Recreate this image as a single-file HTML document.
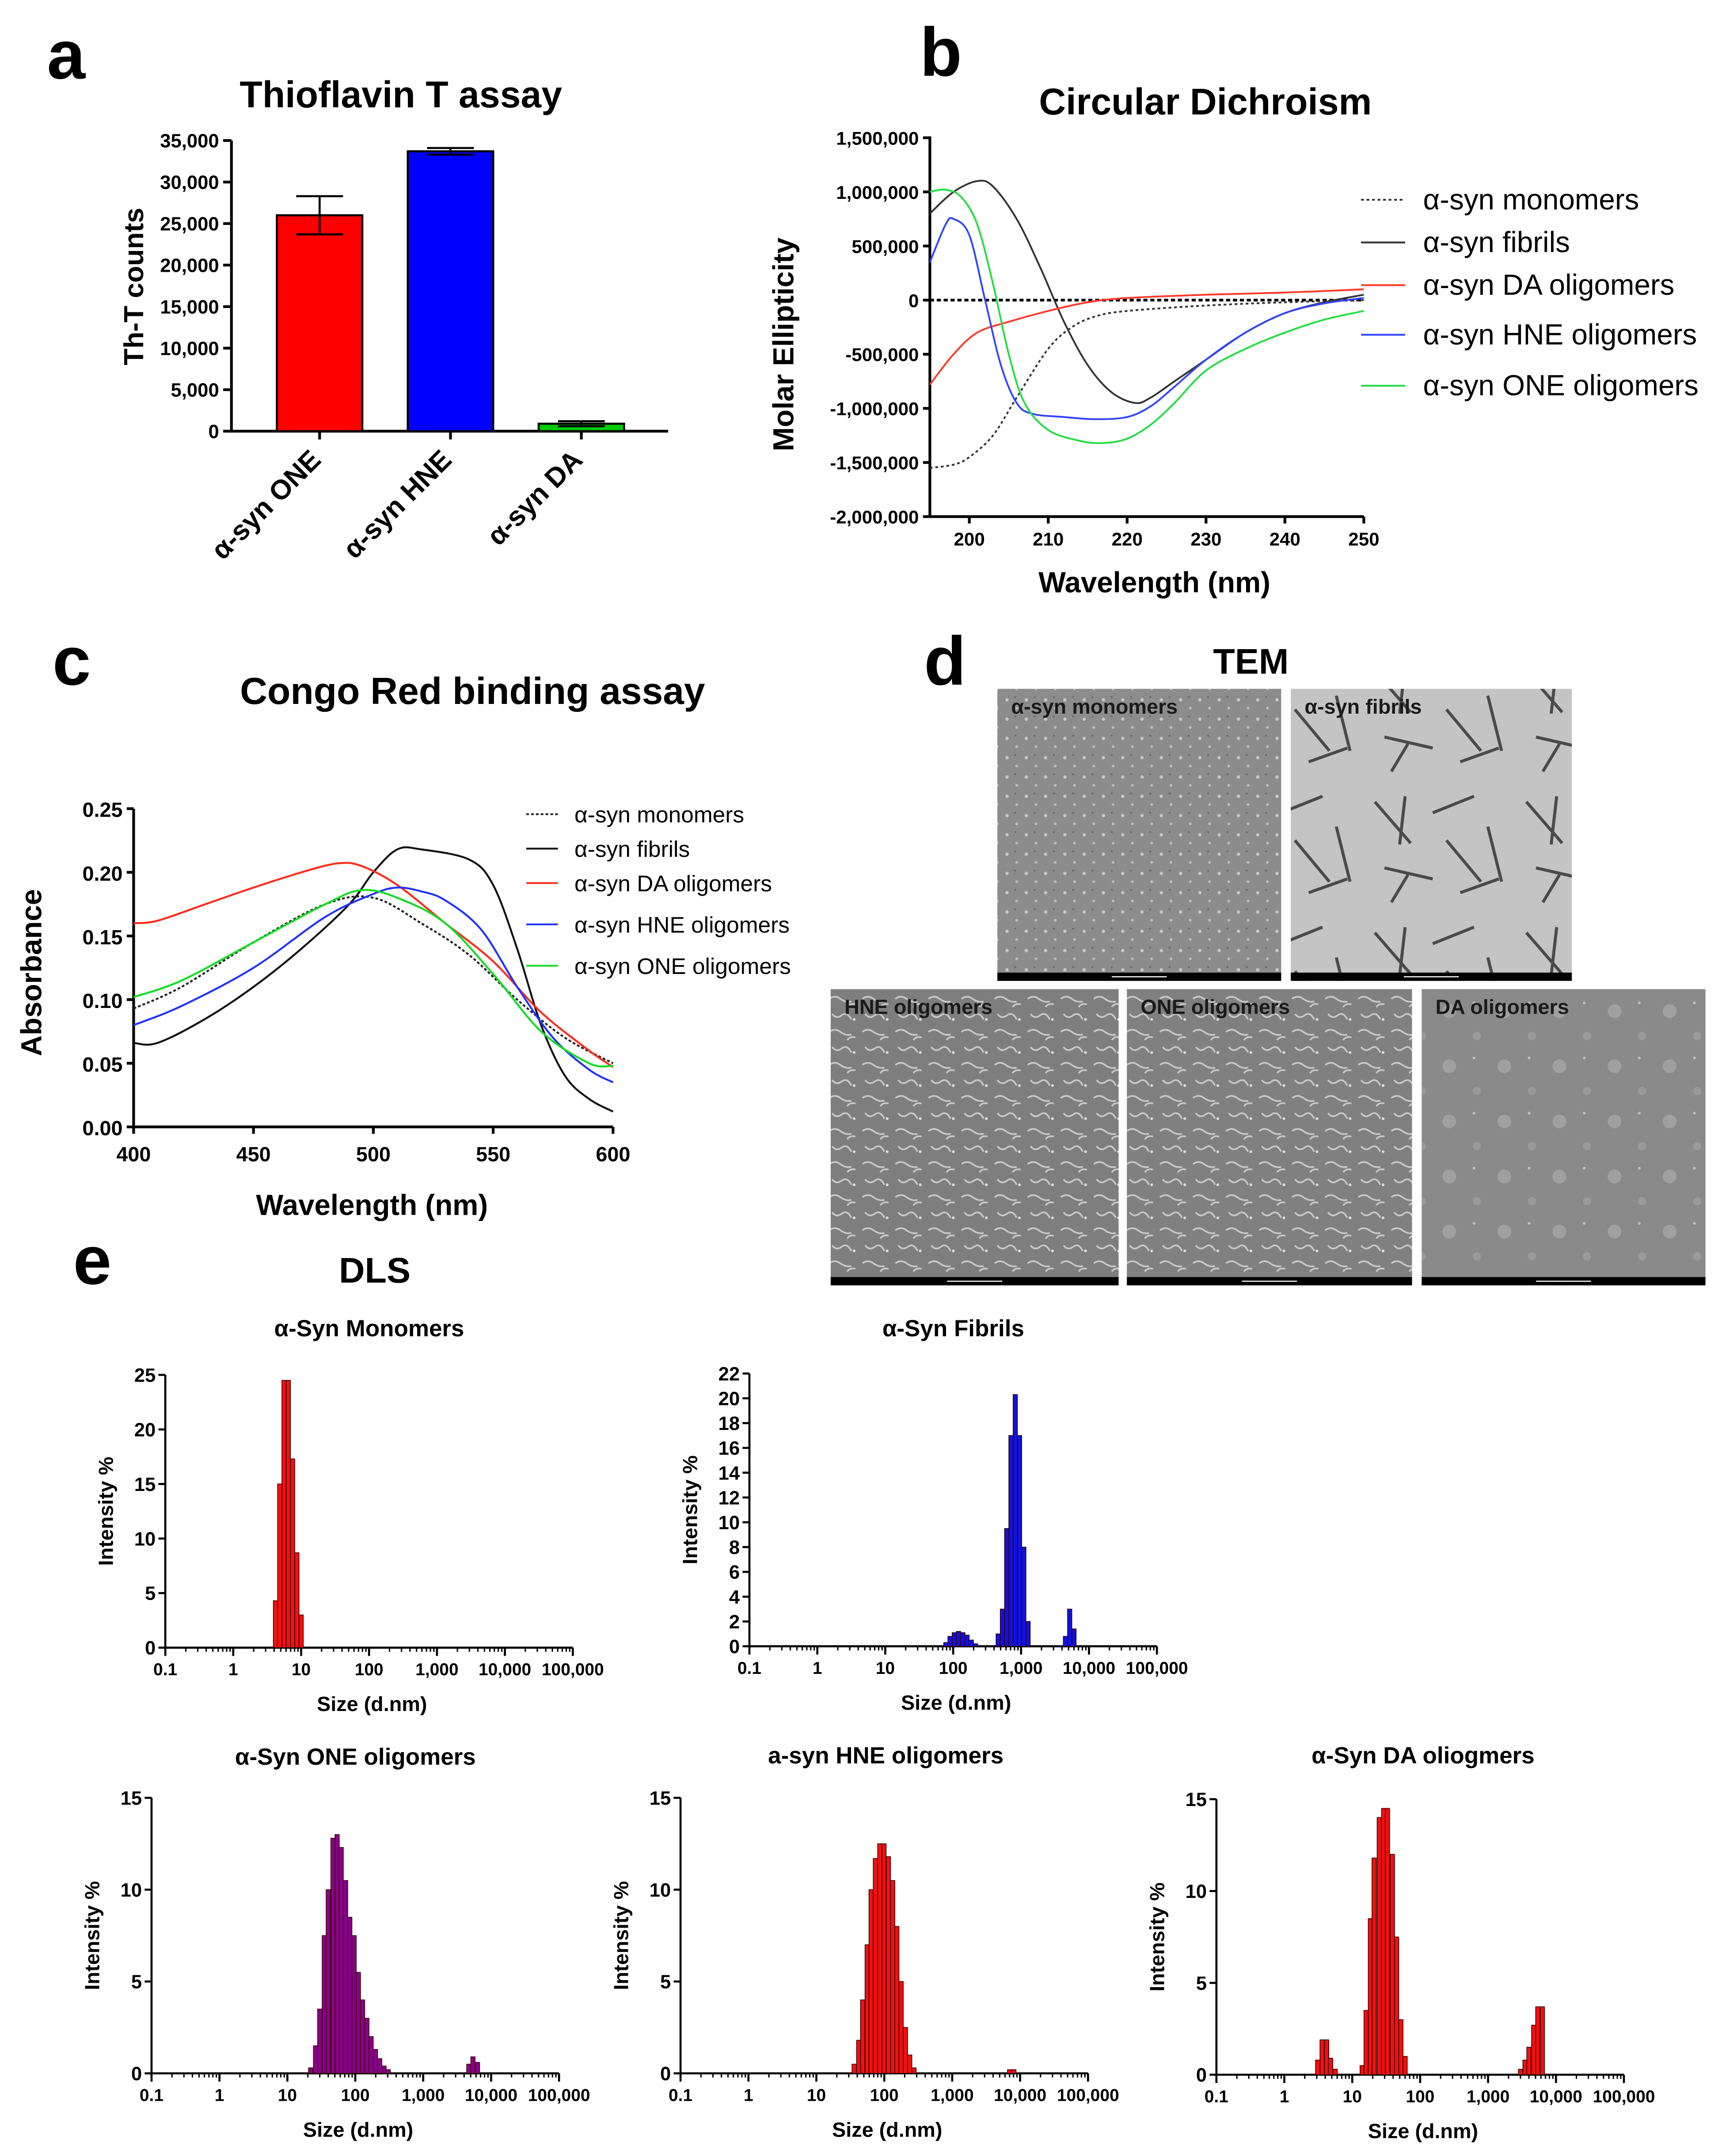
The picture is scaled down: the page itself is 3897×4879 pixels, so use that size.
<!DOCTYPE html>
<html><head><meta charset="utf-8"><style>
html,body{margin:0;padding:0;background:#fff}
svg{display:block}
text{font-family:"Liberation Sans",sans-serif}
</style></head><body>
<svg id="fig" width="3897" height="4879" viewBox="0 0 1250 1565" xmlns="http://www.w3.org/2000/svg">
<defs>
<pattern id="dots" width="14" height="14" patternUnits="userSpaceOnUse"><circle cx="3" cy="4" r="1.2" fill="#c8c8c8"/><circle cx="10" cy="10" r="1" fill="#bdbdbd"/><circle cx="9" cy="2" r="0.7" fill="#6a6a6a"/></pattern>
<pattern id="worms" width="24" height="24" patternUnits="userSpaceOnUse"><path d="M2 5 q4 -3 8 0 t8 2 M4 16 q3 4 7 1 t7 3 M15 11 q2 -3 6 -2" stroke="#c9c9c9" stroke-width="1.2" fill="none"/><circle cx="20" cy="20" r="1" fill="#ddd"/></pattern>
<pattern id="fib" width="110" height="95" patternUnits="userSpaceOnUse"><path d="M8 12 l26 30 M30 8 l-4 35 M50 20 l30 -12 M60 40 l25 30 M15 60 l35 8 M70 78 l28 -10 M90 30 l10 40 M20 85 l12 -20" stroke="#4a4a4a" stroke-width="2.2" fill="none"/></pattern>
<pattern id="blobs" width="40" height="40" patternUnits="userSpaceOnUse"><circle cx="12" cy="14" r="5" fill="#a0a0a0"/><circle cx="32" cy="32" r="3" fill="#9a9a9a"/><circle cx="30" cy="8" r="1" fill="#c0c0c0"/></pattern>
</defs>
</svg>
<script>
// ---------- data ----------
const thtCategories = ['α-syn ONE','α-syn HNE','α-syn DA'];
const thtValues = [26000, 33700, 900];
const thtErrors = [2300, 400, 300];
const thtColors = ['#ff0000','#0000ff','#00cc00'];

const cdWl_mono = [195,198,200,203,206,210,213,216,220,230,240,250];
const cdVal_mono = [-1.55,-1.52,-1.45,-1.25,-0.9,-0.45,-0.25,-0.15,-0.1,-0.05,-0.02,0.0];
const cdWl_fib = [195,198,201,203,206,209,212,215,218,221,223,226,230,235,240,245,250];
const cdVal_fib = [0.8,1.0,1.1,1.05,0.75,0.3,-0.2,-0.6,-0.85,-0.95,-0.9,-0.75,-0.55,-0.3,-0.12,-0.02,0.05];
const cdWl_da = [195,198,201,205,210,215,220,230,240,250];
const cdVal_da = [-0.78,-0.5,-0.3,-0.2,-0.1,-0.02,0.02,0.05,0.07,0.1];
const cdWl_hne = [195,197,198,200,202,204,206,208,212,216,220,223,226,230,235,240,245,250];
const cdVal_hne = [0.35,0.7,0.75,0.6,0.0,-0.6,-0.95,-1.05,-1.08,-1.1,-1.08,-0.98,-0.8,-0.55,-0.3,-0.12,-0.03,0.02];
const cdWl_one = [195,197,199,201,203,205,207,210,214,217,220,223,226,230,235,240,245,250];
const cdVal_one = [1.0,1.02,0.95,0.7,0.15,-0.5,-0.95,-1.2,-1.3,-1.32,-1.28,-1.15,-0.95,-0.65,-0.45,-0.3,-0.18,-0.1];
const cdYTicks = ['1,500,000','1,000,000','500,000','0','-500,000','-1,000,000','-1,500,000','-2,000,000'];
const cdXTicks = [200,210,220,230,240,250];

const crWl_mono = [400,420,450,480,500,520,540,560,580,600];
const crVal_mono = [0.093,0.11,0.145,0.175,0.18,0.16,0.135,0.10,0.07,0.05];
const crWl_fib = [400,410,430,450,470,490,500,510,520,540,550,560,570,580,590,600];
const crVal_fib = [0.066,0.066,0.085,0.11,0.14,0.175,0.2,0.218,0.218,0.21,0.19,0.14,0.08,0.04,0.022,0.012];
const crWl_da = [400,410,430,450,470,485,495,510,530,550,570,590,600];
const crVal_da = [0.16,0.162,0.175,0.188,0.2,0.207,0.205,0.19,0.16,0.13,0.09,0.06,0.047];
const crWl_hne = [400,420,450,480,500,510,520,530,545,560,575,590,600];
const crVal_hne = [0.08,0.095,0.125,0.165,0.183,0.188,0.185,0.178,0.155,0.11,0.07,0.045,0.035];
const crWl_one = [400,420,450,480,495,510,530,550,570,590,600];
const crVal_one = [0.102,0.115,0.145,0.175,0.186,0.18,0.16,0.12,0.075,0.05,0.048];
const crYTicks = ['0.00','0.05','0.10','0.15','0.20','0.25'];
const crXTicks = [400,450,500,550,600];

const dlsMonoSize = [4.19,4.84,5.6,6.47,7.48,8.65,10];
const dlsMonoVal = [4.3,15,24.5,24.5,17.3,8.7,3];
const dlsFibSize = [78,90,104,120,139,160,185,214,460,531,614,710,821,949,1097,1268,4500,5200,6010];
const dlsFibVal = [0.3,0.8,1.1,1.2,1.1,0.9,0.5,0.2,1.0,3.0,9.5,17,20.3,17,8,2,0.8,3,1.4];
const dlsOneSize = [22,26,30,35,40,47,54,62,72,83,96,111,128,148,171,198,229,265,306,4700,5400,6300];
const dlsOneVal = [0.3,1.5,3.5,7.5,10,12.8,13,12.3,10.5,8.5,7.5,5.5,4,3,2,1.3,0.8,0.4,0.2,0.5,0.9,0.6];
const dlsHneSize = [36,42,48,56,64,74,86,99,115,133,153,177,205,237,274,7000,8100];
const dlsHneVal = [0.5,1.8,4,7,10,11.7,12.5,12.5,11.8,10.5,8,5,2.5,1,0.3,0.2,0.2];
const dlsDaSize = [3.1,3.6,4.2,4.8,5.6,14,16,18.5,21,25,29,33,39,45,52,60,3000,3500,4000,4700,5400,6300];
const dlsDaVal = [0.8,1.9,1.9,0.9,0.3,0.5,3.5,8.5,11.8,14,14.5,14.5,12,7.5,3,1,0.3,0.8,1.5,2.7,3.7,3.7];
const dlsXTicks = ['0.1','1','10','100','1,000','10,000','100,000'];

// ---------- helpers ----------
const svg = document.getElementById('fig');
const NS = 'http://www.w3.org/2000/svg';
function mk(tag, attrs, name, parent){
  const e = document.createElementNS(NS, tag);
  for (const k in attrs) e.setAttribute(k, attrs[k]);
  
  
  (parent||svg).appendChild(e);
  return e;
}
function txt(x,y,s,size,name,opt){
  opt=opt||{};
  const t = mk('text',{x:x,y:y,'font-size':size,'font-weight':opt.w||'bold','text-anchor':opt.a||'middle',fill:opt.fill||'#000',transform:opt.tr||''},name);
  t.textContent=s; return t;
}
function line(x1,y1,x2,y2,name,sw,col,dash){
  return mk('line',{x1:x1,y1:y1,x2:x2,y2:y2,stroke:col||'#000','stroke-width':sw||1.5,'stroke-dasharray':dash||'none'},name);
}
function smoothPath(pts){
  let d='M'+pts[0][0]+' '+pts[0][1];
  for(let i=0;i<pts.length-1;i++){
    const p0=pts[i-1]||pts[i],p1=pts[i],p2=pts[i+1],p3=pts[i+2]||p2;
    const c1x=p1[0]+(p2[0]-p0[0])/6,c1y=p1[1]+(p2[1]-p0[1])/6;
    const c2x=p2[0]-(p3[0]-p1[0])/6,c2y=p2[1]-(p3[1]-p1[1])/6;
    d+=` C${c1x} ${c1y} ${c2x} ${c2y} ${p2[0]} ${p2[1]}`;
  }
  return d;
}

// ---------- panel letters & titles ----------
txt(48,57,'a',50,'panel-label-a');
txt(683,55,'b',50,'panel-label-b');
txt(52,497,'c',50,'panel-label-c');
txt(686,497,'d',50,'panel-label-d');
txt(67,932,'e',50,'panel-label-e');
txt(291,78,'Thioflavin T assay',27,'tht-title');
txt(875,83,'Circular Dichroism',27,'cd-title');
txt(343,511,'Congo Red binding assay',27.5,'congo-title');
txt(908,489,'TEM',26,'tem-title');
txt(272,931,'DLS',26,'dls-title');

// ---------- panel a ----------
(function(){
  const x0=168,y0=313,yTop=102,xEnd=485,max=35000;
  const ys=v=>y0-(v/max)*(y0-yTop);
  line(x0,yTop,x0,y0+1,'tht-y-axis',2);
  line(x0-1,y0,xEnd,y0,'tht-x-axis',2);
  for(let v=0;v<=max;v+=5000){
    line(x0-6,ys(v),x0,ys(v),'tht-y-tick',2);
    txt(x0-9,ys(v)+5,v===0?'0':v.toLocaleString('en-US'),14,'tht-y-tick-label',{a:'end'});
  }
  txt(0,0,'Th-T counts',20,'tht-y-axis-title',{tr:'translate(104,208) rotate(-90)'});
  const bw=62, step=95, start=201;
  thtValues.forEach((v,i)=>{
    const x=start+i*step;
    mk('rect',{x:x,y:ys(v),width:bw,height:y0-ys(v),fill:thtColors[i],stroke:'#000','stroke-width':1.5},'tht-bar-'+i);
    const cx=x+bw/2;
    line(cx,ys(v+thtErrors[i]),cx,ys(v),'tht-error-bar',1.5);
    line(cx-17,ys(v+thtErrors[i]),cx+17,ys(v+thtErrors[i]),'tht-error-cap',1.5);
    line(cx,ys(v),cx,ys(Math.max(0,v-thtErrors[i])),'tht-error-bar',1.5);
    line(cx-17,ys(Math.max(0,v-thtErrors[i])),cx+17,ys(Math.max(0,v-thtErrors[i])),'tht-error-cap',1.5);
    line(cx,y0,cx,y0+6,'tht-x-tick',2);
    txt(0,0,thtCategories[i],20,'tht-x-label',{a:'end',tr:`translate(${cx+2},${y0+22}) rotate(-45)`});
  });
})();

// ---------- panel b ----------
(function(){
  const x0=675,x1=990,yTop=100,yBot=375;
  const xs=w=>x0+(w-195)/(250-195)*(x1-x0);
  const ys=v=>yTop+(1.5-v)/3.5*(yBot-yTop);
  line(x0,yTop-1,x0,yBot,'cd-y-axis',2);
  line(x0,yBot,x1,yBot,'cd-x-axis',2);
  cdYTicks.forEach((s,i)=>{
    const v=1.5-i*0.5;
    line(x0-5,ys(v),x0,ys(v),'cd-y-tick',2);
    txt(x0-8,ys(v)+5,s,13.5,'cd-y-tick-label',{a:'end'});
  });
  cdXTicks.forEach(w=>{
    line(xs(w),yBot,xs(w),yBot+5,'cd-x-tick',2);
    txt(xs(w),yBot+21,String(w),13.5,'cd-x-tick-label');
  });
  line(x0,ys(0),x1,ys(0),'cd-zero-line',2,'#000','3,2');
  txt(838,430,'Wavelength (nm)',21,'cd-x-axis-title');
  txt(0,0,'Molar Ellipticity',21,'cd-y-axis-title',{tr:'translate(576,250) rotate(-90)'});
  const series=[[cdWl_mono,cdVal_mono,'#333','2,2','cd-line-monomers'],[cdWl_fib,cdVal_fib,'#333','none','cd-line-fibrils'],[cdWl_da,cdVal_da,'#ff3a2a','none','cd-line-da'],[cdWl_hne,cdVal_hne,'#3344ff','none','cd-line-hne'],[cdWl_one,cdVal_one,'#22dd44','none','cd-line-one']];
  series.forEach(s=>{
    const pts=s[0].map((w,i)=>[xs(w),ys(s[1][i])]);
    mk('path',{d:smoothPath(pts),fill:'none',stroke:s[2],'stroke-width':1.3,'stroke-dasharray':s[3]},s[4]);
  });
  const leg=['α-syn monomers','α-syn fibrils','α-syn DA oligomers','α-syn HNE oligomers','α-syn ONE oligomers'];
  const ly=[145,176,207,243,280];
  leg.forEach((l,i)=>{
    line(988,ly[i],1020,ly[i],'cd-legend-swatch',1.3,series[i][2],series[i][3]);
    txt(1033,ly[i]+7,l,21,'cd-legend-entry',{a:'start',w:'normal'});
  });
})();

// ---------- panel c ----------
(function(){
  const x0=97,x1=445,yTop=587,yBot=818;
  const xs=w=>x0+(w-400)/200*(x1-x0);
  const ys=v=>yBot-v/0.25*(yBot-yTop);
  line(x0,yTop,x0,yBot,'cr-y-axis',2);
  line(x0,yBot,x1,yBot,'cr-x-axis',2);
  crYTicks.forEach(s=>{
    const v=parseFloat(s);
    line(x0-5,ys(v),x0,ys(v),'cr-y-tick',2);
    txt(x0-8,ys(v)+6,s,15,'cr-y-tick-label',{a:'end'});
  });
  crXTicks.forEach(w=>{
    line(xs(w),yBot,xs(w),yBot+5,'cr-x-tick',2);
    txt(xs(w),yBot+25,String(w),15,'cr-x-tick-label');
  });
  txt(270,882,'Wavelength (nm)',21,'cr-x-axis-title');
  txt(0,0,'Absorbance',21,'cr-y-axis-title',{tr:'translate(30,706) rotate(-90)'});
  const series=[[crWl_mono,crVal_mono,'#222','2,1.5','cr-line-monomers'],[crWl_fib,crVal_fib,'#111','none','cr-line-fibrils'],[crWl_da,crVal_da,'#ff2a1a','none','cr-line-da'],[crWl_hne,crVal_hne,'#2233ff','none','cr-line-hne'],[crWl_one,crVal_one,'#11dd22','none','cr-line-one']];
  series.forEach(s=>{
    const pts=s[0].map((w,i)=>[xs(w),ys(s[1][i])]);
    mk('path',{d:smoothPath(pts),fill:'none',stroke:s[2],'stroke-width':1.4,'stroke-dasharray':s[3]},s[4]);
  });
  const leg=['α-syn monomers','α-syn fibrils','α-syn DA oligomers','α-syn HNE oligomers','α-syn ONE oligomers'];
  const ly=[591,616,641,671,701];
  leg.forEach((l,i)=>{
    line(382,ly[i],405,ly[i],'cr-legend-swatch',1.3,series[i][2],series[i][3]);
    txt(417,ly[i]+6,l,16.5,'cr-legend-entry',{a:'start',w:'normal'});
  });
})();

// ---------- panel d (TEM) ----------
(function(){
  const imgs=[[724,500,206,212,'#8c8c8c','url(#dots)','α-syn monomers','tem-monomers'],[937,500,204,212,'#c4c4c4','url(#fib)','α-syn fibrils','tem-fibrils'],[603,718,209,215,'#7e7e7e','url(#worms)','HNE oligomers','tem-hne'],[818,718,207,215,'#808080','url(#worms)','ONE oligomers','tem-one'],[1032,718,206,215,'#8a8a8a','url(#blobs)','DA oligomers','tem-da']];
  imgs.forEach(m=>{
    mk('rect',{x:m[0],y:m[1],width:m[2],height:m[3],fill:m[4]},m[7]+'-image');
    mk('rect',{x:m[0],y:m[1],width:m[2],height:m[3],fill:m[5]},m[7]+'-texture');
    mk('rect',{x:m[0],y:m[1]+m[3]-6,width:m[2],height:6,fill:'#000'},m[7]+'-scale-strip');
    line(m[0]+m[2]/2-20,m[1]+m[3]-3,m[0]+m[2]/2+20,m[1]+m[3]-3,m[7]+'-scale-bar',0.8,'#fff');
    txt(m[0]+10,m[1]+18,m[6],15,m[7]+'-label',{a:'start',fill:'#1a1a1a'});
  });
})();

// ---------- panel e (DLS) ----------
function dls(cfg){
  const {x0,yTop,yBot,ymax,ystep,sizes,vals,fill,title,tx,ty,name}=cfg;
  const dec=49.3, x1=x0+6*dec;
  const xs=s=>x0+Math.log10(s/0.1)*dec;
  const ys=v=>yBot-v/ymax*(yBot-yTop);
  txt(tx,ty,title,17,name+'-title');
  line(x0,yTop,x0,yBot,name+'-y-axis',1.5);
  line(x0,yBot,x1,yBot,name+'-x-axis',1.5);
  for(let v=0;v<=ymax;v+=ystep){
    line(x0-5,ys(v),x0,ys(v),name+'-y-tick',1.5);
    txt(x0-7,ys(v)+5,String(v),14,name+'-y-tick-label',{a:'end'});
  }
  dlsXTicks.forEach((s,i)=>{
    const x=x0+i*dec;
    line(x,yBot,x,yBot+6,name+'-x-tick',1.5);
    txt(x,yBot+20,s,12.5,name+'-x-tick-label');
    if(i<6) for(let m=2;m<10;m++){
      const xm=x+Math.log10(m)*dec;
      line(xm,yBot,xm,yBot+3,name+'-x-minor-tick',1);
    }
  });
  txt(x0+150,yBot+46,'Size (d.nm)',15,name+'-x-axis-title');
  txt(0,0,'Intensity %',15,name+'-y-axis-title',{tr:`translate(${x0-38},${(yTop+yBot)/2}) rotate(-90)`});
  const bw=dec*Math.log10(1.156);
  sizes.forEach((s,i)=>{
    const x=xs(s)-bw/2;
    mk('rect',{x:x,y:ys(vals[i]),width:bw,height:yBot-ys(vals[i]),fill:fill,stroke:'#300','stroke-width':0.5},name+'-bar');
  });
}
dls({x0:120,yTop:998,yBot:1196,ymax:25,ystep:5,sizes:dlsMonoSize,vals:dlsMonoVal,fill:'#ee1111',title:'α-Syn Monomers',tx:268,ty:970,name:'dls-monomers'});
dls({x0:544,yTop:997,yBot:1195,ymax:22,ystep:2,sizes:dlsFibSize,vals:dlsFibVal,fill:'#1111dd',title:'α-Syn Fibrils',tx:692,ty:970,name:'dls-fibrils'});
dls({x0:110,yTop:1305,yBot:1505,ymax:15,ystep:5,sizes:dlsOneSize,vals:dlsOneVal,fill:'#880088',title:'α-Syn ONE oligomers',tx:258,ty:1281,name:'dls-one'});
dls({x0:494,yTop:1305,yBot:1505,ymax:15,ystep:5,sizes:dlsHneSize,vals:dlsHneVal,fill:'#ee1111',title:'a-syn HNE oligomers',tx:643,ty:1280,name:'dls-hne'});
dls({x0:883,yTop:1306,yBot:1506,ymax:15,ystep:5,sizes:dlsDaSize,vals:dlsDaVal,fill:'#ee1111',title:'α-Syn DA oliogmers',tx:1033,ty:1280,name:'dls-da'});
</script>
</body></html>
